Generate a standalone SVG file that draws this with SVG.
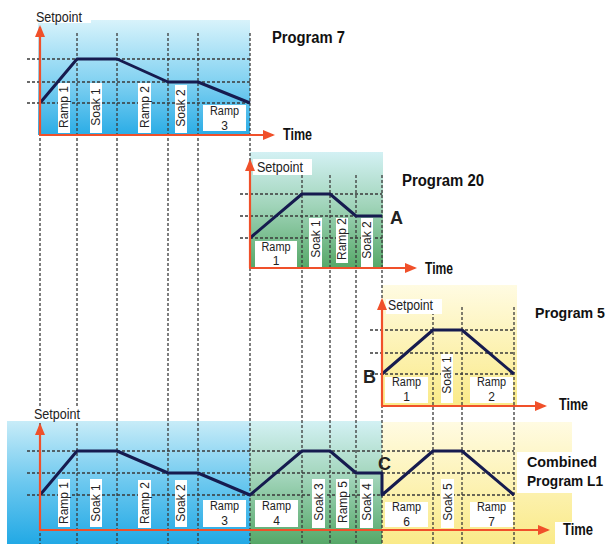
<svg xmlns="http://www.w3.org/2000/svg" width="611" height="544" viewBox="0 0 611 544">
<defs>
<linearGradient id="gBlue7" x1="0" y1="0" x2="0" y2="1"><stop offset="0" stop-color="#d8f3fb"/><stop offset="0.5" stop-color="#88d4f2"/><stop offset="1" stop-color="#2aace6"/></linearGradient>
<linearGradient id="gBlueC" x1="0" y1="0" x2="0" y2="1"><stop offset="0" stop-color="#c8ecf8"/><stop offset="0.5" stop-color="#6cc8ef"/><stop offset="1" stop-color="#22a9e5"/></linearGradient>
<linearGradient id="gGreen" x1="0" y1="0" x2="0" y2="1"><stop offset="0" stop-color="#d3f1f4"/><stop offset="0.45" stop-color="#a2d5bb"/><stop offset="1" stop-color="#56a868"/></linearGradient>
<linearGradient id="gYellow" x1="0" y1="0" x2="0" y2="1"><stop offset="0" stop-color="#fffbe2"/><stop offset="1" stop-color="#faea88"/></linearGradient>
<marker id="arr" markerWidth="12" markerHeight="10" refX="10" refY="5" orient="auto" markerUnits="userSpaceOnUse"><path d="M0,0 L12,5 L0,10 Z" fill="#f0502a"/></marker>
<style>
.dash{stroke:#3a3a3a;stroke-width:1.3;stroke-dasharray:3 2;fill:none}
.axis{stroke:#f0502a;stroke-width:2.2;fill:none;marker-end:url(#arr)}
.prof{stroke:#161b4f;stroke-width:3;fill:none;stroke-linejoin:round}
.box{fill:#ffffff}
.lbl{font-family:"Liberation Sans",Arial,sans-serif;font-size:12px;fill:#222;text-anchor:middle;dominant-baseline:central}
.sp{font-family:"Liberation Sans",Arial,sans-serif;font-size:14px;fill:#222}
.bt{font-family:"Liberation Sans",Arial,sans-serif;font-weight:bold;font-size:16px;fill:#111}
.bs{font-size:15px}
.big{font-family:"Liberation Sans",Arial,sans-serif;font-weight:bold;font-size:18px;fill:#222}
</style>
</defs>
<rect width="611" height="544" fill="#ffffff"/>

<g id="panels">
<rect x="38" y="20" width="212" height="115" fill="url(#gBlue7)"/>
<rect x="250" y="152" width="133" height="116" fill="url(#gGreen)"/>
<rect x="382" y="285" width="135" height="121" fill="url(#gYellow)"/>
<rect x="7" y="421" width="243" height="123" fill="url(#gBlueC)"/>
<rect x="250" y="421" width="132" height="123" fill="url(#gGreen)"/>
<rect x="382" y="422" width="190" height="122" fill="url(#gYellow)"/>
</g>

<g id="connectors">
<path class="dash" d="M40,33V544M77,33V544M117,33V544M168,33V544M198,33V544M250,33V544M302,175V544M330,175V544M356,175V544M382,175V544M433,307V544M462,307V544M514,307V544"/>
<path class="dash" d="M27,59H250M27,82H250M27,103H250M240,194H382M240,216H382M240,238H382M370,330H514M370,353H514M370,374H514M27,451H514M27,473H514M27,495H514"/>
</g>

<g id="program7">
<rect class="box" x="33" y="5" width="58" height="18"/>
<text class="sp" x="36" y="21.5" textLength="46" lengthAdjust="spacingAndGlyphs">Setpoint</text>
<rect class="box" x="58" y="83" width="12" height="50"/>
<text class="lbl" x="64" y="107" transform="rotate(-90 64 107)">Ramp 1</text>
<rect class="box" x="90" y="83" width="12" height="50"/>
<text class="lbl" x="96" y="107" transform="rotate(-90 96 107)">Soak 1</text>
<rect class="box" x="138" y="83" width="13" height="50"/>
<text class="lbl" x="144.5" y="107" transform="rotate(-90 144.5 107)">Ramp 2</text>
<rect class="box" x="175" y="85" width="12" height="48"/>
<text class="lbl" x="181" y="108" transform="rotate(-90 181 108)">Soak 2</text>
<rect class="box" x="203" y="105" width="43" height="26"/>
<text class="lbl" x="224.5" y="111" textLength="29" lengthAdjust="spacingAndGlyphs">Ramp</text>
<text class="lbl" x="224.5" y="126">3</text>
<polyline class="prof" points="40,103 77,59 117,59 168,82 198,82 250,103"/>
<line class="axis" x1="40" y1="135" x2="40" y2="27"/>
<line class="axis" x1="39" y1="135" x2="273" y2="135"/>
<text class="bt" x="283" y="140" textLength="29" lengthAdjust="spacingAndGlyphs">Time</text>
<text class="bt" x="272" y="43" textLength="73" lengthAdjust="spacingAndGlyphs">Program 7</text>
</g>

<g id="program20">
<rect class="box" x="253" y="159" width="59" height="16"/>
<text class="sp" x="257" y="172" textLength="46" lengthAdjust="spacingAndGlyphs">Setpoint</text>
<rect class="box" x="255" y="241" width="42" height="26"/>
<text class="lbl" x="276" y="247" textLength="29" lengthAdjust="spacingAndGlyphs">Ramp</text>
<text class="lbl" x="276" y="261">1</text>
<rect class="box" x="309" y="218" width="13" height="49"/>
<text class="lbl" x="315.5" y="239" transform="rotate(-90 315.5 239)">Soak 1</text>
<rect class="box" x="336" y="218" width="12" height="45"/>
<text class="lbl" x="342" y="239" transform="rotate(-90 342 239)">Ramp 2</text>
<rect class="box" x="361" y="218" width="12" height="49"/>
<text class="lbl" x="367" y="240" transform="rotate(-90 367 240)">Soak 2</text>
<polyline class="prof" points="250,238 302,194 330,194 356,216 382,216"/>
<line class="axis" x1="250" y1="268" x2="250" y2="161"/>
<line class="axis" x1="249" y1="268" x2="415" y2="268"/>
<text class="bt" x="425" y="274" textLength="28" lengthAdjust="spacingAndGlyphs">Time</text>
<text class="bt" x="402" y="186" textLength="82" lengthAdjust="spacingAndGlyphs">Program 20</text>
<text class="big" x="390" y="224">A</text>
</g>

<g id="program5">
<rect class="box" x="386" y="299" width="56" height="15"/>
<text class="sp" x="388" y="310" textLength="45" lengthAdjust="spacingAndGlyphs">Setpoint</text>
<rect class="box" x="385" y="377" width="43" height="26"/>
<text class="lbl" x="406.5" y="382" textLength="29" lengthAdjust="spacingAndGlyphs">Ramp</text>
<text class="lbl" x="406.5" y="397">1</text>
<rect class="box" x="441" y="354" width="12" height="49"/>
<text class="lbl" x="447" y="375" transform="rotate(-90 447 375)">Soak 1</text>
<rect class="box" x="470" y="377" width="43" height="26"/>
<text class="lbl" x="491.5" y="382" textLength="29" lengthAdjust="spacingAndGlyphs">Ramp</text>
<text class="lbl" x="491.5" y="397">2</text>
<polyline class="prof" points="382,374 433,330 462,330 514,374"/>
<line class="axis" x1="382" y1="406" x2="382" y2="300"/>
<line class="axis" x1="381" y1="406" x2="545" y2="406"/>
<text class="bt" x="559" y="410" textLength="29" lengthAdjust="spacingAndGlyphs">Time</text>
<text class="bt bs" x="535" y="318" textLength="70" lengthAdjust="spacingAndGlyphs">Program 5</text>
<text class="big" x="363" y="383">B</text>
</g>

<g id="combined">
<rect class="box" x="33" y="406" width="48" height="15"/>
<text class="sp" x="34" y="419" textLength="46" lengthAdjust="spacingAndGlyphs">Setpoint</text>
<rect class="box" x="58" y="479" width="12" height="48"/>
<text class="lbl" x="64" y="503" transform="rotate(-90 64 503)">Ramp 1</text>
<rect class="box" x="90" y="479" width="12" height="48"/>
<text class="lbl" x="96" y="503" transform="rotate(-90 96 503)">Soak 1</text>
<rect class="box" x="138" y="480" width="13" height="48"/>
<text class="lbl" x="144.5" y="503" transform="rotate(-90 144.5 503)">Ramp 2</text>
<rect class="box" x="175" y="480" width="12" height="47"/>
<text class="lbl" x="181" y="503" transform="rotate(-90 181 503)">Soak 2</text>
<rect class="box" x="203" y="500" width="43" height="27"/>
<text class="lbl" x="224.5" y="506" textLength="29" lengthAdjust="spacingAndGlyphs">Ramp</text>
<text class="lbl" x="224.5" y="521">3</text>
<rect class="box" x="255" y="500" width="43" height="27"/>
<text class="lbl" x="276.5" y="506" textLength="29" lengthAdjust="spacingAndGlyphs">Ramp</text>
<text class="lbl" x="276.5" y="521">4</text>
<rect class="box" x="312" y="479" width="13" height="49"/>
<text class="lbl" x="318.5" y="502" transform="rotate(-90 318.5 502)">Soak 3</text>
<rect class="box" x="336" y="479" width="13" height="49"/>
<text class="lbl" x="342.5" y="502" transform="rotate(-90 342.5 502)">Ramp 5</text>
<rect class="box" x="360" y="479" width="13" height="49"/>
<text class="lbl" x="366.5" y="502" transform="rotate(-90 366.5 502)">Soak 4</text>
<rect class="box" x="385" y="502" width="43" height="25"/>
<text class="lbl" x="406.5" y="507" textLength="29" lengthAdjust="spacingAndGlyphs">Ramp</text>
<text class="lbl" x="406.5" y="522">6</text>
<rect class="box" x="441" y="479" width="13" height="49"/>
<text class="lbl" x="447.5" y="502" transform="rotate(-90 447.5 502)">Soak 5</text>
<rect class="box" x="470" y="502" width="43" height="25"/>
<text class="lbl" x="491.5" y="507" textLength="29" lengthAdjust="spacingAndGlyphs">Ramp</text>
<text class="lbl" x="491.5" y="522">7</text>
<polyline class="prof" points="40,495 77,451 117,451 168,473 198,473 250,495 302,451 330,451 356,473 382,473 382,495 433,451 462,451 514,495"/>
<line class="axis" x1="40" y1="530" x2="40" y2="425"/>
<line class="axis" x1="39" y1="530" x2="548" y2="530"/>
<rect class="box" x="555" y="522" width="40" height="22"/>
<text class="bt" x="563" y="535" textLength="30" lengthAdjust="spacingAndGlyphs">Time</text>
<text class="big" x="378" y="470">C</text>
<rect class="box" x="517" y="452" width="86" height="41"/>
<text class="bt bs" x="527" y="467" textLength="70" lengthAdjust="spacingAndGlyphs">Combined</text>
<text class="bt bs" x="527" y="486" textLength="76" lengthAdjust="spacingAndGlyphs">Program L1</text>
</g>
</svg>
